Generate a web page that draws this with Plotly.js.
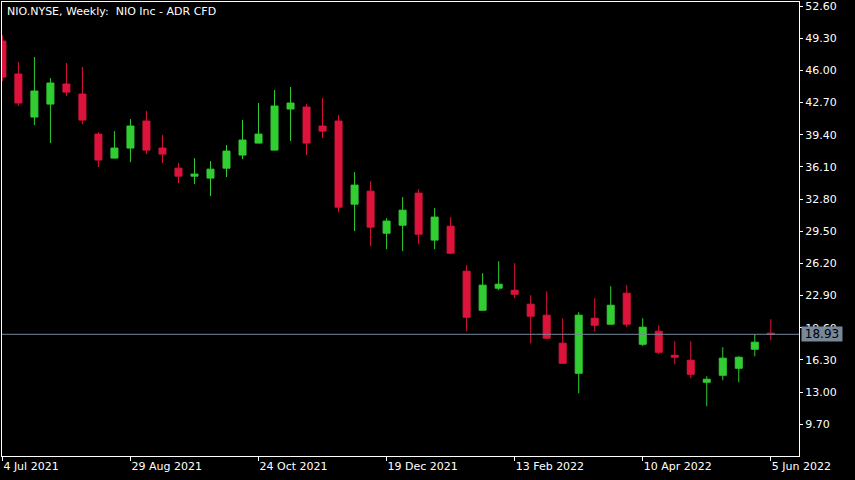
<!DOCTYPE html>
<html>
<head>
<meta charset="utf-8">
<script src="https://cdn.plot.ly/plotly-3.0.1.min.js"></script>
<style>
  html, body { margin: 0; padding: 0; background: #000; }
  #chart { width: 855px; height: 480px; }
</style>
</head>
<body>
<div id="chart"></div>
<script>
// Weekly bars, NIO.NYSE
const dates = [
  "2021-07-04","2021-07-11","2021-07-18","2021-07-25","2021-08-01","2021-08-08","2021-08-15","2021-08-22",
  "2021-08-29","2021-09-05","2021-09-12","2021-09-19","2021-09-26","2021-10-03","2021-10-10","2021-10-17",
  "2021-10-24","2021-10-31","2021-11-07","2021-11-14","2021-11-21","2021-11-28","2021-12-05","2021-12-12",
  "2021-12-19","2021-12-26","2022-01-02","2022-01-09","2022-01-16","2022-01-23","2022-01-30","2022-02-06",
  "2022-02-13","2022-02-20","2022-02-27","2022-03-06","2022-03-13","2022-03-20","2022-03-27","2022-04-03",
  "2022-04-10","2022-04-17","2022-04-24","2022-05-01","2022-05-08","2022-05-15","2022-05-22","2022-05-29",
  "2022-06-05"
];
const openVals = [49.01, 45.62, 41.21, 42.54, 44.60, 43.57, 39.46, 37.00, 38.03, 40.80, 38.03, 35.97, 35.15, 34.95, 35.97, 37.31, 38.54, 37.82, 42.03, 42.24, 40.29, 40.80, 32.28, 33.61, 29.30, 30.12, 33.41, 28.59, 30.02, 25.40, 21.40, 23.66, 23.45, 22.02, 20.89, 18.02, 14.94, 20.58, 19.97, 23.15, 17.91, 19.25, 16.78, 16.27, 14.01, 14.73, 15.45, 17.40, 19.05];
const highVals = [49.60, 46.85, 47.37, 45.21, 46.75, 46.34, 39.67, 39.77, 41.00, 41.82, 39.36, 36.49, 37.00, 36.69, 38.34, 40.90, 42.65, 43.98, 44.29, 42.54, 43.16, 41.41, 35.56, 34.64, 30.84, 33.00, 33.82, 31.87, 30.95, 26.02, 25.20, 26.43, 26.23, 22.94, 23.35, 20.58, 21.20, 22.63, 23.86, 23.97, 20.58, 19.86, 18.22, 18.22, 14.63, 17.60, 16.68, 18.94, 20.48];
const lowVals  = [44.90, 42.37, 40.39, 38.54, 43.36, 40.49, 36.08, 36.98, 36.59, 37.41, 36.49, 34.44, 34.33, 33.10, 35.05, 36.90, 38.52, 37.80, 38.75, 37.31, 39.05, 31.46, 29.51, 27.97, 27.66, 27.46, 28.17, 27.66, 27.15, 19.25, 21.38, 23.45, 22.63, 18.02, 18.43, 15.94, 12.88, 19.25, 19.95, 19.66, 17.71, 16.89, 15.86, 14.42, 11.55, 14.22, 14.01, 16.68, 18.32];
const closeVals= [45.31, 42.65, 43.88, 44.70, 43.77, 40.90, 36.80, 38.03, 40.29, 37.82, 37.41, 35.15, 35.36, 35.87, 37.72, 38.85, 39.46, 42.34, 42.65, 38.54, 39.77, 31.97, 34.23, 29.92, 30.54, 31.66, 29.20, 30.95, 27.25, 20.68, 23.97, 24.07, 23.04, 20.79, 18.53, 15.96, 20.89, 19.86, 21.91, 19.97, 19.66, 17.09, 16.58, 14.83, 14.32, 16.48, 16.58, 18.12, 18.93];

const xTickVals = ["2021-07-04","2021-08-29","2021-10-24","2021-12-19","2022-02-13","2022-04-10","2022-06-05"];
const xTickText = ["4 Jul 2021","29 Aug 2021","24 Oct 2021","19 Dec 2021","13 Feb 2022","10 Apr 2022","5 Jun 2022"];
const yTickVals = [9.7, 13.0, 16.3, 19.6, 22.9, 26.2, 29.5, 32.8, 36.1, 39.4, 42.7, 46.0, 49.3, 52.6];
const yTickText = ["9.70","13.00","16.30","19.60","22.90","26.20","29.50","32.80","36.10","39.40","42.70","46.00","49.30","52.60"];
const lastPrice = 18.93;
const chartTitle = "NIO.NYSE, Weekly:  NIO Inc - ADR CFD";

const GREEN = "#32CD32", RED = "#DC143C", GRAY = "#778899";
const FONT = "DejaVu Sans, sans-serif";

const trace = {
  type: "candlestick",
  x: dates, open: openVals, high: highVals, low: lowVals, close: closeVals,
  increasing: { line: { color: GREEN, width: 1 }, fillcolor: GREEN },
  decreasing: { line: { color: RED, width: 1 }, fillcolor: RED },
  whiskerwidth: 0,
  hoverinfo: "skip",
  showlegend: false
};

const layout = {
  width: 855, height: 480,
  paper_bgcolor: "#000", plot_bgcolor: "#000",
  margin: { l: 2, r: 56, t: 2, b: 24, pad: 0 },
  boxgap: 0.375,
  showlegend: false,
  font: { family: FONT, size: 11, color: "#fff" },
  title: {
    text: chartTitle,
    font: { family: FONT, size: 11, color: "#fff" },
    xref: "container", x: 7 / 855, xanchor: "left",
    yref: "container", y: 1 - 11.5 / 480, yanchor: "middle"
  },
  xaxis: {
    type: "date",
    range: ["2021-07-03 20:00", "2022-06-17 08:00"],
    rangeslider: { visible: false },
    showgrid: false, zeroline: false,
    showline: true, linecolor: "#fff", linewidth: 1, mirror: true,
    ticks: "outside", ticklen: 4, tickcolor: "#fff", tickwidth: 1,
    tickmode: "array", tickvals: xTickVals, ticktext: xTickText,
    ticklabelposition: "outside right",
    ticklabeloverflow: "allow",
    tickfont: { family: FONT, size: 11, color: "#fff" },
    fixedrange: true
  },
  yaxis: {
    side: "right",
    range: [6.45, 53.01],
    showgrid: false, zeroline: false,
    showline: true, linecolor: "#fff", linewidth: 1, mirror: true,
    ticks: "outside", ticklen: 3, tickcolor: "#fff", tickwidth: 1,
    tickmode: "array", tickvals: yTickVals, ticktext: yTickText,
    ticklabeloverflow: "allow",
    tickfont: { family: FONT, size: 11, color: "#fff" },
    fixedrange: true
  },
  shapes: [{
    type: "line", xref: "paper", x0: 0, x1: 1, yref: "y", y0: lastPrice, y1: lastPrice,
    line: { color: GRAY, width: 1 }, layer: "above"
  }],
  annotations: [{
    xref: "paper", x: 1, xanchor: "left", xshift: 2,
    yref: "y", y: lastPrice, yanchor: "middle",
    text: lastPrice.toFixed(2), showarrow: false,
    bgcolor: GRAY, width: 38, height: 12, borderpad: 1,
    font: { family: FONT, size: 12, color: "#000" }
  }]
};

Plotly.newPlot("chart", [trace], layout, { displayModeBar: false, staticPlot: true });
</script>
</body>
</html>
